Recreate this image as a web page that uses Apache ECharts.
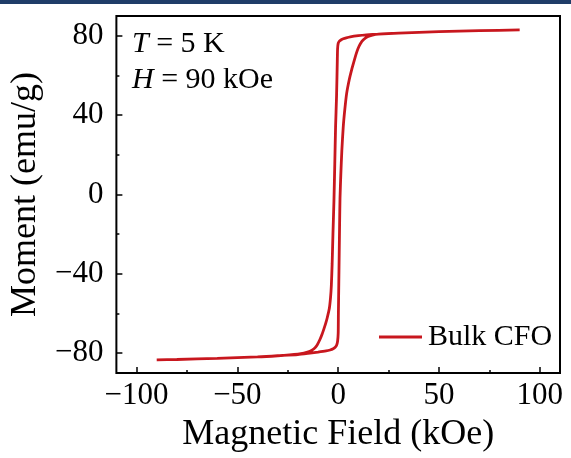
<!DOCTYPE html>
<html>
<head>
<meta charset="utf-8">
<script src="https://cdn.jsdelivr.net/npm/echarts@6/dist/echarts.min.js"></script>
<style>
html,body{margin:0;padding:0;background:#fff;}
#c{width:571px;height:458px;}
</style>
</head>
<body>
<div id="c"></div>
<script>
// Descending branch (field swept from +90 to -90 kOe)
var descH = [90, 70, 50, 30, 20, 14, 10, 6, 4, 2.5, 1.5, 0.6, 0, -0.3, -0.45, -0.8, -1.3, -1.7, -2.1, -2.6, -3.0, -3.4, -3.8, -4.4, -5.4, -6.2, -7.0, -8.0, -9.0, -10.5, -12, -14, -17, -20, -30, -40, -60, -80, -90];
var descM = [83.0, 82.6, 82.1, 81.4, 80.9, 80.5, 80.1, 79.5, 79.0, 78.5, 78.0, 77.3, 76.2, 73.5, 67, 50, 34, 15, -3, -20, -35, -46, -52, -57.5, -62, -65, -67.5, -70.5, -73, -76, -77.8, -79.1, -80.0, -80.5, -81.3, -81.9, -82.6, -83.2, -83.4];
// Ascending branch (field swept from -90 to +90 kOe)
var ascH = [-90, -80, -60, -40, -30, -20, -14, -10, -6, -4, -2.5, -1.5, -0.8, -0.3, 0, 0.1, 0.3, 0.5, 0.7, 0.9, 1.3, 1.8, 2.5, 3.3, 4.2, 5.5, 6.7, 7.8, 8.8, 9.8, 11, 12.5, 14.5, 17, 20, 30, 50, 70, 90];
var ascM = [-83.4, -83.2, -82.6, -81.9, -81.3, -80.7, -80.0, -79.5, -78.9, -78.4, -77.8, -77.0, -76.0, -74.0, -70, -60, -45, -30, -15, -2, 10, 22, 34, 43, 51, 58, 63, 67, 70.5, 73.5, 76, 78, 79.5, 80.4, 80.9, 81.4, 82.1, 82.6, 83.0];

var xMajor = [-100, -50, 0, 50, 100];
var xMinor = [-75, -25, 25, 75];
var yMajor = [-80, -40, 0, 40, 80];
var yMinor = [-60, -20, 20, 60];
var seriesName = 'Bulk CFO';

var loop = [];
for (var i = 0; i < descH.length; i++) loop.push([descH[i], descM[i]]);
for (var j = 0; j < ascH.length; j++) loop.push([ascH[j], ascM[j]]);

var FONT = '"Liberation Serif", "Times New Roman", serif';
var RED = '#c8171e';
function fmt(v){ return String(v).replace('-', '\u2212'); }

var chart = echarts.init(document.getElementById('c'), null, {renderer:'canvas'});
chart.setOption({
  animation: false,
  backgroundColor: '#fff',
  grid: {left: 115, right: 11, top: 16, bottom: 85, show: true, borderColor: '#000', borderWidth: 2, containLabel: false},
  xAxis: [{
    type: 'value', min: -110, max: 110,
    name: 'Magnetic Field (kOe)', nameLocation: 'middle', nameGap: 44,
    nameTextStyle: {fontFamily: FONT, fontSize: 36, color: '#000'},
    axisLine: {show: false, onZero: false},
    splitLine: {show: false},
    axisTick: {show: true, inside: true, length: 6, customValues: xMajor, lineStyle: {color: '#000', width: 1.5}},
    axisLabel: {customValues: xMajor, margin: 7, fontFamily: FONT, fontSize: 31, color: '#000', formatter: fmt}
  }, {
    type: 'value', min: -110, max: 110, position: 'bottom',
    axisLine: {show: false, onZero: false}, splitLine: {show: false},
    axisTick: {show: true, inside: true, length: 3, customValues: xMinor, lineStyle: {color: '#000', width: 1.5}},
    axisLabel: {show: false}
  }],
  yAxis: [{
    type: 'value', min: -90, max: 90,
    name: 'Moment (emu/g)', nameLocation: 'middle', nameGap: 66,
    nameTextStyle: {fontFamily: FONT, fontSize: 36, color: '#000'},
    axisLine: {show: false, onZero: false}, splitLine: {show: false},
    axisTick: {show: true, inside: true, length: 6, customValues: yMajor, lineStyle: {color: '#000', width: 1.5}},
    axisLabel: {customValues: yMajor, margin: 13, fontFamily: FONT, fontSize: 31, color: '#000', formatter: fmt}
  }, {
    type: 'value', min: -90, max: 90, position: 'left',
    axisLine: {show: false, onZero: false}, splitLine: {show: false},
    axisTick: {show: true, inside: true, length: 3, customValues: yMinor, lineStyle: {color: '#000', width: 1.5}},
    axisLabel: {show: false}
  }],
  legend: {
    left: 379, top: 322, padding: 0, itemWidth: 43, itemHeight: 3, itemGap: 0, icon: 'rect',
    textStyle: {fontFamily: FONT, fontSize: 30, color: '#000', padding: [0,0,0,1]},
    data: [seriesName]
  },
  series: [{
    name: seriesName, type: 'line', xAxisIndex: 0, yAxisIndex: 0,
    data: loop, symbol: 'none', smooth: 0.2,
    lineStyle: {color: RED, width: 2.8}, itemStyle: {color: RED}
  }],
  graphic: [
    {type: 'rect', left: 0, top: 0, shape: {width: 571, height: 4}, style: {fill: '#1f3d68'}, silent: true},
    {type: 'text', left: 132, top: 29, style: {
      text: '{i|T} = 5 K', fontFamily: FONT, fontSize: 30, fill: '#000',
      rich: {i: {fontFamily: FONT, fontSize: 30, fontStyle: 'italic', fill: '#000'}}
    }},
    {type: 'text', left: 132, top: 65, style: {
      text: '{i|H} = 90 kOe', fontFamily: FONT, fontSize: 30, fill: '#000',
      rich: {i: {fontFamily: FONT, fontSize: 30, fontStyle: 'italic', fill: '#000'}}
    }}
  ]
});
</script>
</body>
</html>
